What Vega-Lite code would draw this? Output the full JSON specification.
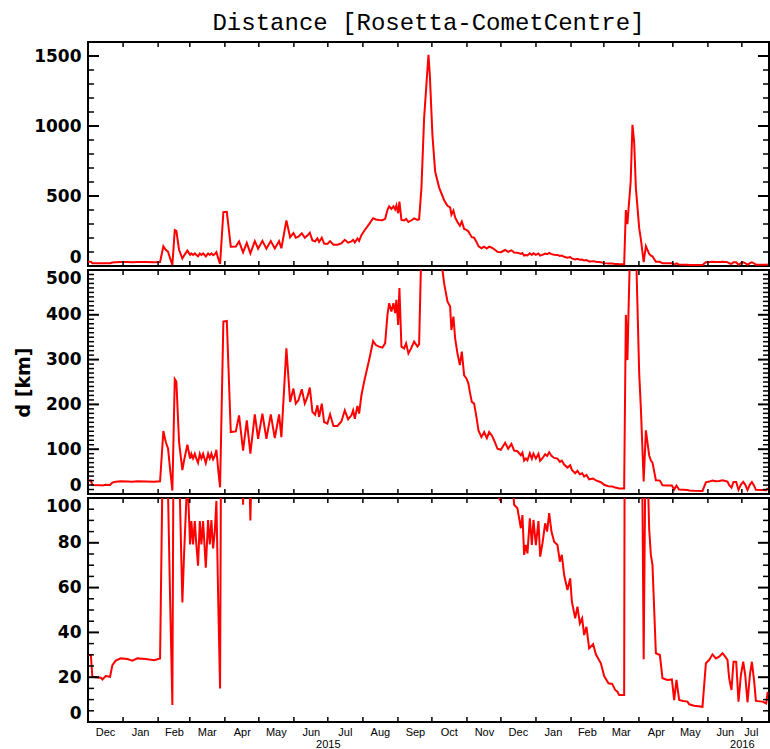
{
  "$schema": "https://vega.github.io/schema/vega-lite/v6.json",
  "background": "white",
  "padding": {"left": 13, "top": 10, "right": 0, "bottom": 0},
  "spacing": 0,
  "datasets": {
    "d": [
      {"t":"2014-12-01T00:00","v":29.9},{"t":"2014-12-03T12:00","v":29.9},{"t":"2014-12-04T21:00","v":20.2},{"t":"2014-12-12T07:00","v":19.8},{"t":"2014-12-13T17:00","v":19.0},{"t":"2014-12-16T17:00","v":20.5},{"t":"2014-12-20T12:00","v":20.2},{"t":"2014-12-22T13:00","v":25.4},{"t":"2014-12-25T13:00","v":27.4},{"t":"2014-12-29T23:00","v":28.4},
      {"t":"2015-01-04T19:00","v":28.1},{"t":"2015-01-09T05:00","v":27.4},{"t":"2015-01-13T15:00","v":28.4},{"t":"2015-01-21T02:00","v":28.1},{"t":"2015-01-28T10:00","v":27.6},{"t":"2015-02-02T17:00","v":28.4},{"t":"2015-02-05T15:00","v":140.6},{"t":"2015-02-07T18:00","v":115.9},{"t":"2015-02-09T19:00","v":100.9},{"t":"2015-02-11T13:00","v":56},
      {"t":"2015-02-13T14:00","v":7.6},{"t":"2015-02-15T17:00","v":256.3},{"t":"2015-02-17T03:00","v":250.4},{"t":"2015-02-19T12:00","v":116},{"t":"2015-02-22T10:00","v":53.4},{"t":"2015-02-23T22:00","v":74.7},{"t":"2015-02-26T20:00","v":110},{"t":"2015-03-01T06:00","v":79.3},{"t":"2015-03-02T09:00","v":89.7},{"t":"2015-03-03T21:00","v":79.3},
      {"t":"2015-03-05T10:00","v":89.7},{"t":"2015-03-06T19:00","v":79},{"t":"2015-03-08T07:00","v":69.8},{"t":"2015-03-09T20:00","v":89.7},{"t":"2015-03-11T06:00","v":79.3},{"t":"2015-03-12T18:00","v":89.7},{"t":"2015-03-15T03:00","v":68.9},{"t":"2015-03-17T04:00","v":90.2},{"t":"2015-03-18T16:00","v":79.3},{"t":"2015-03-20T02:00","v":90.2},
      {"t":"2015-03-21T14:00","v":77.5},{"t":"2015-03-23T02:00","v":85},{"t":"2015-03-24T12:00","v":98.7},{"t":"2015-03-26T06:00","v":50.8},{"t":"2015-03-27T18:00","v":15},{"t":"2015-03-30T16:00","v":385},{"t":"2015-04-02T17:00","v":386.4},{"t":"2015-04-06T05:00","v":138.3},{"t":"2015-04-10T16:00","v":139.7},{"t":"2015-04-13T13:00","v":175.6},
      {"t":"2015-04-17T02:00","v":97},{"t":"2015-04-20T09:00","v":164.4},{"t":"2015-04-23T13:00","v":90},{"t":"2015-04-27T11:00","v":177.8},{"t":"2015-04-30T09:00","v":123.3},{"t":"2015-05-04T04:00","v":179.4},{"t":"2015-05-07T17:00","v":123.3},{"t":"2015-05-11T14:00","v":177.8},{"t":"2015-05-15T03:00","v":124.8},{"t":"2015-05-18T22:00","v":177.8},
      {"t":"2015-05-20T23:00","v":127},{"t":"2015-05-25T09:00","v":325},{"t":"2015-05-28T16:00","v":205.6},{"t":"2015-05-31T14:00","v":235.4},{"t":"2015-06-02T17:00","v":201.8},{"t":"2015-06-05T00:00","v":209.2},{"t":"2015-06-08T00:00","v":233.9},{"t":"2015-06-10T16:00","v":201.8},{"t":"2015-06-12T23:00","v":216.8},{"t":"2015-06-15T02:00","v":237.7},
      {"t":"2015-06-17T09:00","v":183.2},{"t":"2015-06-19T18:00","v":177},{"t":"2015-06-21T19:00","v":198},{"t":"2015-06-23T07:00","v":172},{"t":"2015-06-25T16:00","v":201.8},{"t":"2015-06-27T17:00","v":160.7},{"t":"2015-06-30T15:00","v":157},{"t":"2015-07-03T00:00","v":177.8},{"t":"2015-07-05T23:00","v":151.8},{"t":"2015-07-09T12:00","v":151.8},
      {"t":"2015-07-13T00:00","v":162},{"t":"2015-07-16T00:00","v":186.8},{"t":"2015-07-18T23:00","v":166.6},{"t":"2015-07-21T21:00","v":175.6},{"t":"2015-07-23T09:00","v":186.8},{"t":"2015-07-24T21:00","v":168},{"t":"2015-07-27T04:00","v":196.6},{"t":"2015-07-28T16:00","v":179.4},{"t":"2015-07-30T17:00","v":220.4},{"t":"2015-08-02T02:00","v":250.4},
      {"t":"2015-08-06T12:00","v":298.9},{"t":"2015-08-10T01:00","v":341.5},{"t":"2015-08-12T10:00","v":332.5},{"t":"2015-08-15T08:00","v":329},{"t":"2015-08-18T06:00","v":326.7},{"t":"2015-08-20T16:00","v":336.3},{"t":"2015-08-22T17:00","v":399.8},{"t":"2015-08-24T05:00","v":426},{"t":"2015-08-26T05:00","v":407.4},{"t":"2015-08-28T00:00","v":426},
      {"t":"2015-08-29T12:00","v":403.6},{"t":"2015-08-30T15:00","v":433.4},{"t":"2015-09-01T04:00","v":377.4},{"t":"2015-09-02T07:00","v":459.6},{"t":"2015-09-04T02:00","v":329},{"t":"2015-09-06T11:00","v":325},{"t":"2015-09-08T05:00","v":336.3},{"t":"2015-09-10T06:00","v":313.9},{"t":"2015-09-12T15:00","v":325},{"t":"2015-09-15T07:00","v":340},
      {"t":"2015-09-18T05:00","v":329},{"t":"2015-09-19T17:00","v":334},{"t":"2015-09-21T18:00","v":556},{"t":"2015-09-24T03:00","v":1056},{"t":"2015-09-27T23:00","v":1509},{"t":"2015-09-29T04:00","v":1366},{"t":"2015-10-01T11:00","v":937},{"t":"2015-10-03T21:00","v":675},{"t":"2015-10-07T10:00","v":560},{"t":"2015-10-11T20:00","v":470},
      {"t":"2015-10-14T18:00","v":429.8},{"t":"2015-10-17T03:00","v":418.6},{"t":"2015-10-18T06:00","v":366},{"t":"2015-10-20T01:00","v":396},{"t":"2015-10-21T13:00","v":347.5},{"t":"2015-10-23T14:00","v":313.9},{"t":"2015-10-25T17:00","v":287.7},{"t":"2015-10-27T11:00","v":317.7},{"t":"2015-10-29T12:00","v":265},{"t":"2015-10-31T13:00","v":257.8},
      {"t":"2015-11-02T07:00","v":246.6},{"t":"2015-11-03T13:00","v":228},{"t":"2015-11-05T07:00","v":205.6},{"t":"2015-11-07T08:00","v":201.8},{"t":"2015-11-09T09:00","v":172},{"t":"2015-11-11T04:00","v":142},{"t":"2015-11-13T19:00","v":127},{"t":"2015-11-16T05:00","v":138.3},{"t":"2015-11-18T14:00","v":124.8},{"t":"2015-11-20T15:00","v":138.3},
      {"t":"2015-11-23T00:00","v":130.7},{"t":"2015-11-25T01:00","v":119.5},{"t":"2015-11-27T23:00","v":100.9},{"t":"2015-11-30T23:00","v":98.7},{"t":"2015-12-04T18:00","v":114.3},{"t":"2015-12-07T10:00","v":100.9},{"t":"2015-12-10T08:00","v":112},{"t":"2015-12-12T17:00","v":97},{"t":"2015-12-15T15:00","v":95.4},{"t":"2015-12-18T15:00","v":86.5},
      {"t":"2015-12-20T01:00","v":92.4},{"t":"2015-12-21T13:00","v":74.6},{"t":"2015-12-23T01:00","v":79},{"t":"2015-12-24T11:00","v":75.3},{"t":"2015-12-26T14:00","v":90.9},{"t":"2015-12-28T09:00","v":79},{"t":"2015-12-29T19:00","v":90.2},{"t":"2015-12-31T22:00","v":79},{"t":"2016-01-03T05:00","v":89.7},{"t":"2016-01-04T17:00","v":73.8},
      {"t":"2016-01-06T18:00","v":79.8},{"t":"2016-01-09T03:00","v":88.7},{"t":"2016-01-10T21:00","v":85},{"t":"2016-01-12T16:00","v":93.2},{"t":"2016-01-14T17:00","v":85},{"t":"2016-01-17T02:00","v":80.5},{"t":"2016-01-20T00:00","v":79},{"t":"2016-01-22T03:00","v":71.6},{"t":"2016-01-23T21:00","v":74.6},{"t":"2016-01-25T22:00","v":65.6},
      {"t":"2016-01-28T20:00","v":58.9},{"t":"2016-01-31T06:00","v":64.1},{"t":"2016-02-01T18:00","v":53.7},{"t":"2016-02-04T16:00","v":46.3},{"t":"2016-02-06T16:00","v":51.5},{"t":"2016-02-08T19:00","v":44},{"t":"2016-02-10T20:00","v":46.3},{"t":"2016-02-12T14:00","v":38.8},{"t":"2016-02-14T15:00","v":42.5},{"t":"2016-02-17T00:00","v":32.9},
      {"t":"2016-02-20T13:00","v":34.7},{"t":"2016-02-22T23:00","v":30.2},{"t":"2016-02-27T09:00","v":26.2},{"t":"2016-03-01T07:00","v":20.5},{"t":"2016-03-05T02:00","v":17.3},{"t":"2016-03-08T09:00","v":17},{"t":"2016-03-11T00:00","v":14.3},{"t":"2016-03-13T01:00","v":13.5},{"t":"2016-03-14T13:00","v":12},{"t":"2016-03-18T23:00","v":12},
      {"t":"2016-03-20T11:00","v":399.8},{"t":"2016-03-21T21:00","v":298.9},{"t":"2016-03-22T18:00","v":399.8},{"t":"2016-03-24T17:00","v":600},{"t":"2016-03-26T07:00","v":1009},{"t":"2016-03-27T19:00","v":889},{"t":"2016-03-29T08:00","v":556},{"t":"2016-04-01T06:00","v":270},{"t":"2016-04-02T18:00","v":190.6},{"t":"2016-04-05T05:00","v":28},
      {"t":"2016-04-07T04:00","v":142},{"t":"2016-04-10T02:00","v":86},{"t":"2016-04-11T14:00","v":74.6},{"t":"2016-04-13T00:00","v":70},{"t":"2016-04-16T00:00","v":30.7},{"t":"2016-04-19T13:00","v":29.9},{"t":"2016-04-21T20:00","v":19.5},{"t":"2016-04-26T06:00","v":18.8},{"t":"2016-04-30T04:00","v":19},{"t":"2016-05-02T04:00","v":9.8},
      {"t":"2016-05-04T05:00","v":18.8},{"t":"2016-05-06T14:00","v":9.8},{"t":"2016-05-10T03:00","v":9.4},{"t":"2016-05-13T23:00","v":9.1},{"t":"2016-05-15T11:00","v":7.9},{"t":"2016-05-19T21:00","v":7.3},{"t":"2016-05-27T05:00","v":6.8},{"t":"2016-05-30T05:00","v":26.2},{"t":"2016-06-02T03:00","v":27.7},{"t":"2016-06-05T01:00","v":30.2},
      {"t":"2016-06-08T01:00","v":28.4},{"t":"2016-06-10T23:00","v":29.2},{"t":"2016-06-13T21:00","v":30.7},{"t":"2016-06-16T06:00","v":29.2},{"t":"2016-06-18T07:00","v":27.7},{"t":"2016-06-19T19:00","v":19.5},{"t":"2016-06-21T20:00","v":14.3},{"t":"2016-06-23T15:00","v":26.9},{"t":"2016-06-26T00:00","v":26.9},{"t":"2016-06-28T01:00","v":9.1},
      {"t":"2016-06-30T04:00","v":21},{"t":"2016-07-02T05:00","v":26.9},{"t":"2016-07-03T23:00","v":21},{"t":"2016-07-06T00:00","v":8.8},{"t":"2016-07-08T03:00","v":21},{"t":"2016-07-09T21:00","v":26.9},{"t":"2016-07-11T22:00","v":18},{"t":"2016-07-13T10:00","v":9.4},{"t":"2016-07-19T06:00","v":9.1},{"t":"2016-07-22T12:00","v":8.3},
      {"t":"2016-07-23T20:00","v":13.5}
    ],
    "xm": [
      {"t":"2015-01-01T00:00"},{"t":"2015-02-01T00:00"},{"t":"2015-03-01T00:00"},{"t":"2015-04-01T00:00"},{"t":"2015-05-01T00:00"},{"t":"2015-06-01T00:00"},{"t":"2015-07-01T00:00"},{"t":"2015-08-01T00:00"},{"t":"2015-09-01T00:00"},{"t":"2015-10-01T00:00"},
      {"t":"2015-11-01T00:00"},{"t":"2015-12-01T00:00"},{"t":"2016-01-01T00:00"},{"t":"2016-02-01T00:00"},{"t":"2016-03-01T00:00"},{"t":"2016-04-01T00:00"},{"t":"2016-05-01T00:00"},{"t":"2016-06-01T00:00"},{"t":"2016-07-01T00:00"}
    ],
    "ym1": [{"v":500},{"v":1000},{"v":1500}],
    "yn1": [{"v":100},{"v":200},{"v":300},{"v":400},{"v":600},{"v":700},{"v":800},{"v":900},{"v":1100},{"v":1200},{"v":1300},{"v":1400}],
    "ym2": [{"v":100},{"v":200},{"v":300},{"v":400}],
    "yn2": [{"v":10},{"v":20},{"v":30},{"v":40},{"v":50},{"v":60},{"v":70},{"v":80},{"v":90},{"v":110},{"v":120},{"v":130},{"v":140},{"v":150},{"v":160},{"v":170},{"v":180},{"v":190},{"v":210},{"v":220},{"v":230},{"v":240},{"v":250},{"v":260},{"v":270},{"v":280},{"v":290},{"v":310},{"v":320},{"v":330},{"v":340},{"v":350},{"v":360},{"v":370},{"v":380},{"v":390},{"v":410},{"v":420},{"v":430},{"v":440},{"v":450},{"v":460},{"v":470},{"v":480},{"v":490}],
    "ym3": [{"v":20},{"v":40},{"v":60},{"v":80}],
    "yn3": [{"v":5},{"v":10},{"v":15},{"v":25},{"v":30},{"v":35},{"v":45},{"v":50},{"v":55},{"v":65},{"v":70},{"v":75},{"v":85},{"v":90},{"v":95}]
  },
  "data": {"name": "d"},
  "vconcat": [
    {
      "width": 681, "height": 224,
      "title": {"text": "Distance [Rosetta-CometCentre]", "font": "Liberation Mono", "fontSize": 24, "fontWeight": "normal", "color": "black", "anchor": "middle", "frame": "group", "offset": 6},
      "layer": [
        {"mark": {"type": "line", "color": "#ff0000", "strokeWidth": 2, "clip": true},
         "encoding": {
           "x": {"field": "t", "type": "temporal", "scale": {"domain": [{"year": 2014, "month": 12, "date": 1}, {"year": 2016, "month": 7, "date": 25}]}, "axis": null},
           "y": {"field": "v", "type": "quantitative", "scale": {"domain": [0, 1600], "nice": false, "zero": false},
                 "axis": {"orient": "left", "values": [0, 500, 1000, 1500], "format": "d", "ticks": false, "domain": false, "grid": false, "labelFont": "DejaVu Sans", "labelFontSize": 17, "labelFontWeight": "bold", "labelPadding": 7, "labelFlush": true, "labelOverlap": false, "title": null}}
         }},
        {"data": {"name": "ym1"}, "mark": {"type": "rule", "color": "black", "strokeWidth": 2},
         "encoding": {"x": {"datum": {"year": 2014, "month": 12, "date": 1}, "type": "temporal", "axis": null}, "x2": {"datum": {"year": 2014, "month": 12, "date": 10, "hours": 17}}, "y": {"field": "v", "type": "quantitative", "axis": null}}},
        {"data": {"name": "ym1"}, "mark": {"type": "rule", "color": "black", "strokeWidth": 2},
         "encoding": {"x": {"datum": {"year": 2016, "month": 7, "date": 15, "hours": 7}, "type": "temporal", "axis": null}, "x2": {"datum": {"year": 2016, "month": 7, "date": 25}}, "y": {"field": "v", "type": "quantitative", "axis": null}}},
        {"data": {"name": "yn1"}, "mark": {"type": "rule", "color": "black", "strokeWidth": 1.5},
         "encoding": {"x": {"datum": {"year": 2014, "month": 12, "date": 1}, "type": "temporal", "axis": null}, "x2": {"datum": {"year": 2014, "month": 12, "date": 6, "hours": 7}}, "y": {"field": "v", "type": "quantitative", "axis": null}}},
        {"data": {"name": "yn1"}, "mark": {"type": "rule", "color": "black", "strokeWidth": 1.5},
         "encoding": {"x": {"datum": {"year": 2016, "month": 7, "date": 19, "hours": 17}, "type": "temporal", "axis": null}, "x2": {"datum": {"year": 2016, "month": 7, "date": 25}}, "y": {"field": "v", "type": "quantitative", "axis": null}}},
        {"data": {"name": "xm"}, "mark": {"type": "rule", "color": "black", "strokeWidth": 1.5},
         "encoding": {"x": {"field": "t", "type": "temporal", "axis": null}, "y": {"datum": 0, "type": "quantitative", "axis": null}, "y2": {"datum": 35.7}}},
        {"data": {"name": "xm"}, "mark": {"type": "rule", "color": "black", "strokeWidth": 1.5},
         "encoding": {"x": {"field": "t", "type": "temporal", "axis": null}, "y": {"datum": 1564.3, "type": "quantitative", "axis": null}, "y2": {"datum": 1600}}}
      ],
      "resolve": {"axis": {"x": "independent", "y": "independent"}}
    },
    {
      "width": 681, "height": 224,
      "layer": [
        {"mark": {"type": "line", "color": "#ff0000", "strokeWidth": 2, "clip": true},
         "encoding": {
           "x": {"field": "t", "type": "temporal", "scale": {"domain": [{"year": 2014, "month": 12, "date": 1}, {"year": 2016, "month": 7, "date": 25}]}, "axis": null},
           "y": {"field": "v", "type": "quantitative", "scale": {"domain": [0, 500], "nice": false, "zero": false},
                 "axis": {"orient": "left", "values": [0, 100, 200, 300, 400, 500], "format": "d", "ticks": false, "domain": false, "grid": false, "labelFont": "DejaVu Sans", "labelFontSize": 17, "labelFontWeight": "bold", "labelPadding": 7, "labelFlush": true, "labelOverlap": false, "title": "d [km]", "titleFont": "DejaVu Sans", "titleFontSize": 19, "titleFontWeight": "bold", "titleColor": "black", "titlePadding": 12}}
         }},
        {"data": {"name": "ym2"}, "mark": {"type": "rule", "color": "black", "strokeWidth": 2},
         "encoding": {"x": {"datum": {"year": 2014, "month": 12, "date": 1}, "type": "temporal", "axis": null}, "x2": {"datum": {"year": 2014, "month": 12, "date": 10, "hours": 17}}, "y": {"field": "v", "type": "quantitative", "axis": null}}},
        {"data": {"name": "ym2"}, "mark": {"type": "rule", "color": "black", "strokeWidth": 2},
         "encoding": {"x": {"datum": {"year": 2016, "month": 7, "date": 15, "hours": 7}, "type": "temporal", "axis": null}, "x2": {"datum": {"year": 2016, "month": 7, "date": 25}}, "y": {"field": "v", "type": "quantitative", "axis": null}}},
        {"data": {"name": "yn2"}, "mark": {"type": "rule", "color": "black", "strokeWidth": 1.5},
         "encoding": {"x": {"datum": {"year": 2014, "month": 12, "date": 1}, "type": "temporal", "axis": null}, "x2": {"datum": {"year": 2014, "month": 12, "date": 6, "hours": 7}}, "y": {"field": "v", "type": "quantitative", "axis": null}}},
        {"data": {"name": "yn2"}, "mark": {"type": "rule", "color": "black", "strokeWidth": 1.5},
         "encoding": {"x": {"datum": {"year": 2016, "month": 7, "date": 19, "hours": 17}, "type": "temporal", "axis": null}, "x2": {"datum": {"year": 2016, "month": 7, "date": 25}}, "y": {"field": "v", "type": "quantitative", "axis": null}}},
        {"data": {"name": "xm"}, "mark": {"type": "rule", "color": "black", "strokeWidth": 1.5},
         "encoding": {"x": {"field": "t", "type": "temporal", "axis": null}, "y": {"datum": 0, "type": "quantitative", "axis": null}, "y2": {"datum": 11.2}}},
        {"data": {"name": "xm"}, "mark": {"type": "rule", "color": "black", "strokeWidth": 1.5},
         "encoding": {"x": {"field": "t", "type": "temporal", "axis": null}, "y": {"datum": 488.8, "type": "quantitative", "axis": null}, "y2": {"datum": 500}}}
      ],
      "resolve": {"axis": {"x": "independent", "y": "independent"}}
    },
    {
      "width": 681, "height": 224,
      "layer": [
        {"mark": {"type": "line", "color": "#ff0000", "strokeWidth": 2, "clip": true},
         "encoding": {
           "x": {"field": "t", "type": "temporal", "scale": {"domain": [{"year": 2014, "month": 12, "date": 1}, {"year": 2016, "month": 7, "date": 25}]}, "axis": null},
           "y": {"field": "v", "type": "quantitative", "scale": {"domain": [0, 100], "nice": false, "zero": false},
                 "axis": {"orient": "left", "values": [0, 20, 40, 60, 80, 100], "format": "d", "ticks": false, "domain": false, "grid": false, "labelFont": "DejaVu Sans", "labelFontSize": 17, "labelFontWeight": "bold", "labelPadding": 7, "labelFlush": true, "labelOverlap": false, "title": null}}
         }},
        {"transform": [{"filter": "datum.v <= 100"}],
         "mark": {"type": "line", "opacity": 0},
         "encoding": {
           "x": {"field": "t", "type": "temporal",
                 "axis": {"orient": "bottom", "values": [{"year": 2014, "month": 12, "date": 16}, {"year": 2015, "month": 1, "date": 16}, {"year": 2015, "month": 2, "date": 15}, {"year": 2015, "month": 3, "date": 16}, {"year": 2015, "month": 4, "date": 16}, {"year": 2015, "month": 5, "date": 16}, {"year": 2015, "month": 6, "date": 16}, {"year": 2015, "month": 7, "date": 16}, {"year": 2015, "month": 8, "date": 16}, {"year": 2015, "month": 9, "date": 16}, {"year": 2015, "month": 10, "date": 16}, {"year": 2015, "month": 11, "date": 16}, {"year": 2015, "month": 12, "date": 16}, {"year": 2016, "month": 1, "date": 16}, {"year": 2016, "month": 2, "date": 15}, {"year": 2016, "month": 3, "date": 16}, {"year": 2016, "month": 4, "date": 16}, {"year": 2016, "month": 5, "date": 16}, {"year": 2016, "month": 6, "date": 16}, {"year": 2016, "month": 7, "date": 9}],
                          "format": "%b", "ticks": false, "domain": false, "grid": false, "labelFont": "Liberation Sans", "labelFontSize": 11, "labelColor": "black", "labelPadding": 4, "labelFlush": false, "labelOverlap": false, "title": null}},
           "y": {"field": "v", "type": "quantitative", "scale": {"domain": [0, 100], "nice": false, "zero": false}, "axis": null}
         }},
        {"transform": [{"filter": "datum.v <= 100"}],
         "mark": {"type": "line", "opacity": 0},
         "encoding": {
           "x": {"field": "t", "type": "temporal",
                 "axis": {"orient": "bottom", "values": [{"year": 2015, "month": 7, "date": 1}, {"year": 2016, "month": 7, "date": 1}],
                          "format": "%Y", "ticks": false, "domain": false, "grid": false, "labelFont": "Liberation Sans", "labelFontSize": 11, "labelColor": "black", "labelPadding": 16, "labelFlush": false, "labelOverlap": false, "title": null}},
           "y": {"field": "v", "type": "quantitative", "scale": {"domain": [0, 100], "nice": false, "zero": false}, "axis": null}
         }},
        {"data": {"name": "ym3"}, "mark": {"type": "rule", "color": "black", "strokeWidth": 2},
         "encoding": {"x": {"datum": {"year": 2014, "month": 12, "date": 1}, "type": "temporal", "axis": null}, "x2": {"datum": {"year": 2014, "month": 12, "date": 10, "hours": 17}}, "y": {"field": "v", "type": "quantitative", "axis": null}}},
        {"data": {"name": "ym3"}, "mark": {"type": "rule", "color": "black", "strokeWidth": 2},
         "encoding": {"x": {"datum": {"year": 2016, "month": 7, "date": 15, "hours": 7}, "type": "temporal", "axis": null}, "x2": {"datum": {"year": 2016, "month": 7, "date": 25}}, "y": {"field": "v", "type": "quantitative", "axis": null}}},
        {"data": {"name": "yn3"}, "mark": {"type": "rule", "color": "black", "strokeWidth": 1.5},
         "encoding": {"x": {"datum": {"year": 2014, "month": 12, "date": 1}, "type": "temporal", "axis": null}, "x2": {"datum": {"year": 2014, "month": 12, "date": 6, "hours": 7}}, "y": {"field": "v", "type": "quantitative", "axis": null}}},
        {"data": {"name": "yn3"}, "mark": {"type": "rule", "color": "black", "strokeWidth": 1.5},
         "encoding": {"x": {"datum": {"year": 2016, "month": 7, "date": 19, "hours": 17}, "type": "temporal", "axis": null}, "x2": {"datum": {"year": 2016, "month": 7, "date": 25}}, "y": {"field": "v", "type": "quantitative", "axis": null}}},
        {"data": {"name": "xm"}, "mark": {"type": "rule", "color": "black", "strokeWidth": 1.5},
         "encoding": {"x": {"field": "t", "type": "temporal", "axis": null}, "y": {"datum": 0, "type": "quantitative", "axis": null}, "y2": {"datum": 2.2}}},
        {"data": {"name": "xm"}, "mark": {"type": "rule", "color": "black", "strokeWidth": 1.5},
         "encoding": {"x": {"field": "t", "type": "temporal", "axis": null}, "y": {"datum": 97.8, "type": "quantitative", "axis": null}, "y2": {"datum": 100}}}
      ],
      "resolve": {"axis": {"x": "independent", "y": "independent"}}
    }
  ],
  "config": {
    "view": {"stroke": "black", "strokeWidth": 2, "fill": null},
    "axis": {"domainColor": "black", "tickColor": "black", "labelColor": "black"}
  }
}
